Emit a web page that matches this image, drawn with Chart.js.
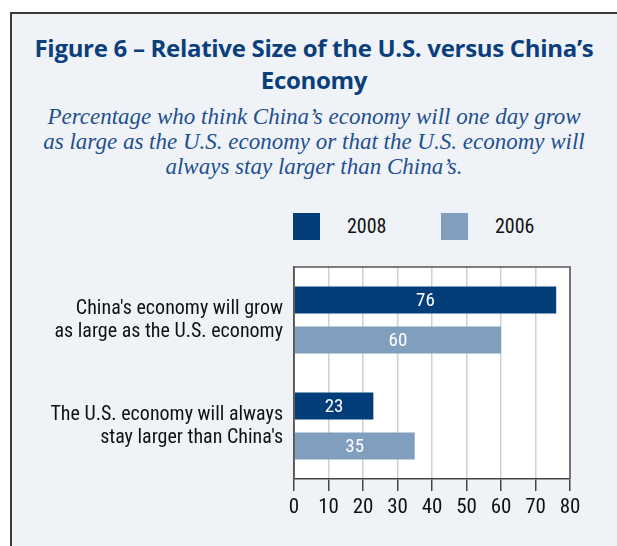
<!DOCTYPE html>
<html>
<head>
<meta charset="utf-8">
<script src="https://cdn.jsdelivr.net/npm/chart.js@4.4.1/dist/chart.umd.min.js"></script>
<style>
    html { overflow: hidden; }
    html, body { margin: 0; padding: 0; background: #fff; }
    .panel {
        position: absolute; left: 10px; top: 12px; width: 900px; height: 900px;
        background: #eff3f8; border: 2px solid #3a3a3a;
    }
    .title {
        position: absolute; left: 0; width: 628px; top: 32px; text-align: center;
        font-family: 'Open Sans', sans-serif; font-weight: 700; font-size: 24px;
        line-height: 32px; color: #0b3f7c; letter-spacing: -0.3px;
    }
    .subtitle {
        position: absolute; left: 0; width: 628px; top: 104px; text-align: center;
        font-family: 'Liberation Serif', serif; font-style: italic; font-size: 23px;
        line-height: 25px; color: #1f4f8f;
    }
    .legend { position: absolute; top: 213px; font-family: 'Roboto Condensed', sans-serif; font-size: 20px; color: #111; }
    .legend .sw { position: absolute; top: 0; width: 27px; height: 27px; }
    .legend .lb { position: absolute; top: 1px; }
    canvas { position: absolute; left: 0; top: 0; }
</style>
</head>
<body>
<div class="panel"></div>
<div class="title">Figure 6 – Relative Size of the U.S. versus China’s<br>Economy</div>
<div class="subtitle">Percentage who think China’s economy will one day grow<br>as large as the U.S. economy or that the U.S. economy will<br>always stay larger than China’s.</div>
<div class="legend" id="legend"></div>
<canvas id="chart" width="617" height="546"></canvas>
<script>
const categories = [
    ["China's economy will grow", "as large as the U.S. economy"],
    ["The U.S. economy will always", "stay larger than China's"]
];
const years = ['2008', '2006'];
const values2008 = [76, 23];
const values2006 = [60, 35];
const xTicks = [0, 10, 20, 30, 40, 50, 60, 70, 80];

const colors = ['#033d7a', '#809fbf'];
const labelFont = "'Roboto Condensed', 'Liberation Sans', sans-serif";

// legend boxes sit above the plot, built from the series names
const legend = document.getElementById('legend');
[293, 441].forEach((left, i) => {
    legend.insertAdjacentHTML('beforeend',
        `<div class="sw" style="left:${left}px;background:${colors[i]}"></div>` +
        `<div class="lb" style="left:${left + 54}px">${years[i]}</div>`);
});

// white plot background plus the dark frame on top/left/right
const plotFrame = {
    id: 'plotFrame',
    beforeDraw(chart) {
        const { ctx, chartArea: a } = chart;
        ctx.save();
        ctx.fillStyle = '#fff';
        ctx.fillRect(a.left, a.top, a.right - a.left, a.bottom - a.top);
        ctx.restore();
    },
    afterDraw(chart) {
        const { ctx, chartArea: a } = chart;
        ctx.save();
        ctx.strokeStyle = '#555';
        ctx.lineWidth = 1.5;
        ctx.beginPath();
        ctx.moveTo(a.left, a.bottom);
        ctx.lineTo(a.left, a.top);
        ctx.lineTo(a.right, a.top);
        ctx.lineTo(a.right, a.bottom);
        ctx.stroke();
        ctx.restore();
    }
};

// value printed in the middle of each bar
const barValues = {
    id: 'barValues',
    afterDatasetsDraw(chart) {
        const { ctx } = chart;
        ctx.save();
        ctx.fillStyle = '#fff';
        ctx.font = `19px ${labelFont}`;
        ctx.textAlign = 'center';
        ctx.textBaseline = 'middle';
        chart.data.datasets.forEach((ds, di) => {
            chart.getDatasetMeta(di).data.forEach((bar, i) => {
                ctx.fillText(ds.data[i], (bar.x + bar.base) / 2, bar.y + 1);
            });
        });
        ctx.restore();
    }
};

new Chart(document.getElementById('chart'), {
    type: 'bar',
    data: {
        labels: categories,
        datasets: [
            { label: years[0], data: values2008, backgroundColor: colors[0] },
            { label: years[1], data: values2006, backgroundColor: colors[1] }
        ]
    },
    options: {
        indexAxis: 'y',
        responsive: false,
        animation: false,
        layout: { padding: { left: 0, top: 267, right: 47, bottom: 0 } },
        datasets: { bar: { categoryPercentage: 0.755, barPercentage: 0.675 } },
        plugins: { legend: { display: false }, tooltip: { enabled: false } },
        scales: {
            x: {
                min: 0, max: 80,
                afterBuildTicks: s => { s.ticks = xTicks.map(v => ({ value: v })); },
                afterFit: s => { s.height = 67; },
                grid: { color: '#d0d0d0', lineWidth: 1.5, drawTicks: true, tickLength: 12, tickColor: '#444', tickWidth: 1.5 },
                border: { display: true, color: '#444', width: 1.5 },
                ticks: { color: '#111', padding: 4, font: { family: labelFont, size: 21 } }
            },
            y: {
                afterFit: s => { s.width = 294; },
                grid: { display: false },
                border: { display: true, color: '#555', width: 1.5 },
                ticks: { color: '#111', padding: 3, font: { family: labelFont, size: 20, lineHeight: 1.15 } }
            }
        }
    },
    plugins: [plotFrame, barValues]
});
</script>
</body>
</html>
